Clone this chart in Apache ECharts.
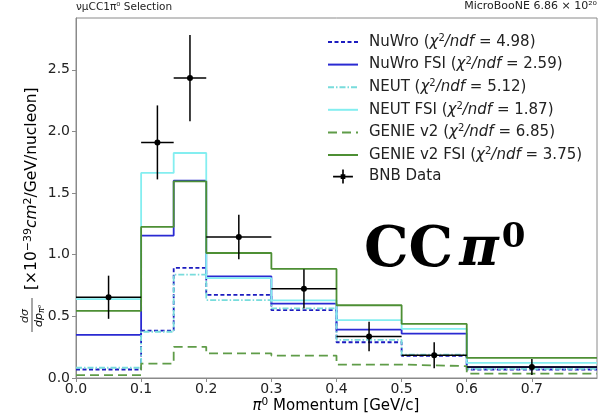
<!DOCTYPE html>
<html>
<head>
<meta charset="utf-8">
<script src="https://cdn.jsdelivr.net/npm/echarts@6/dist/echarts.min.js"></script>
<style>html,body{margin:0;padding:0;background:#fff}#c{width:603px;height:420px}</style>
</head>
<body>
<div id="c"></div>
<script>
// ---- data ----
const binEdges = [0, 0.1, 0.15, 0.2, 0.3, 0.4, 0.5, 0.6, 0.8];
const nuwro      = [0.069, 0.385, 0.893, 0.674, 0.550, 0.290, 0.180, 0.069];
const nuwroFSI   = [0.350, 1.155, 1.600, 0.825, 0.604, 0.393, 0.360, 0.088];
const neut       = [0.083, 0.375, 0.839, 0.631, 0.565, 0.310, 0.190, 0.074];
const neutFSI    = [0.640, 1.663, 1.825, 0.810, 0.630, 0.469, 0.398, 0.123];
const genie      = [0.023, 0.117, 0.253, 0.199, 0.182, 0.109, 0.096, 0.035];
const genieFSI   = [0.545, 1.225, 1.595, 1.014, 0.885, 0.590, 0.439, 0.163];
const dataX      = [0.05, 0.125, 0.175, 0.25, 0.35, 0.45, 0.55, 0.7];
const dataXErr   = [0.05, 0.025, 0.025, 0.05, 0.05, 0.05, 0.05, 0.1];
const dataY      = [0.655, 1.911, 2.433, 1.144, 0.723, 0.336, 0.185, 0.090];
const dataYErr   = [0.175, 0.300, 0.350, 0.180, 0.160, 0.120, 0.105, 0.065];
const modelNames = ['NuWro', 'NuWro FSI', 'NEUT', 'NEUT FSI', 'GENIE v2', 'GENIE v2 FSI'];
const chi2ndf    = ['4.98', '2.59', '5.12', '1.87', '6.85', '3.75'];
const xTicks     = [0, 0.1, 0.2, 0.3, 0.4, 0.5, 0.6, 0.7];
const yTicks     = [0, 0.5, 1.0, 1.5, 2.0, 2.5];

const FONT = 'DejaVu Sans';
const axisGray = '#8a8a8a';
const TXT = '#222';

function stepData(vals) {
  const d = vals.map((v, i) => [binEdges[i], v]);
  d.push([binEdges[binEdges.length - 1], vals[vals.length - 1]]);
  return d;
}

const styles = [
  {color: '#1c1cc0', type: [4, 2.5], width: 1.8},
  {color: '#2a2ad2', type: 'solid', width: 1.8},
  {color: '#78dcdc', type: [6, 2, 1.5, 2], width: 1.8},
  {color: '#84eef0', type: 'solid', width: 1.8},
  {color: '#5f9c48', type: [9, 5], width: 1.8},
  {color: '#4d8f34', type: 'solid', width: 1.8}
];
const modelVals = [nuwro, nuwroFSI, neut, neutFSI, genie, genieFSI];

const series = modelNames.map((n, i) => ({
  name: n,
  type: 'line',
  step: 'end',
  symbol: 'circle',
  showSymbol: false,
  data: stepData(modelVals[i]),
  lineStyle: {color: styles[i].color, type: styles[i].type, width: styles[i].width},
  itemStyle: {color: styles[i].color, opacity: 0},
  z: 2 + i,
  silent: true,
  animation: false
}));

const errRows = dataX.map((x, i) => [x, dataY[i], dataXErr[i], dataYErr[i]]);
series.push({
  name: 'BNB Data',
  type: 'custom',
  data: errRows,
  encode: {x: 0, y: 1},
  itemStyle: {color: '#000'},
  z: 20,
  animation: false,
  renderItem: function (params, api) {
    const x = api.value(0), y = api.value(1), xe = api.value(2), ye = api.value(3);
    const a = api.coord([x - xe, y]), b = api.coord([x + xe, y]);
    const t = api.coord([x, y + ye]), u = api.coord([x, y - ye]);
    const c = api.coord([x, y]);
    const st = {stroke: '#000', lineWidth: 1.5};
    return {
      type: 'group',
      children: [
        {type: 'line', shape: {x1: a[0], y1: a[1], x2: b[0], y2: b[1]}, style: st},
        {type: 'line', shape: {x1: t[0], y1: t[1], x2: u[0], y2: u[1]}, style: st},
        {type: 'circle', shape: {cx: c[0], cy: c[1], r: 3}, style: {fill: '#000'}}
      ]
    };
  }
});

const legendData = modelNames.map(n => ({name: n}));
legendData.push({
  name: 'BNB Data',
  icon: 'path://M0,5.3h17v1.4h-17z M7.8,0h1.4v12h-1.4z M6.5,4h4v4h-4z'
});

const chart = echarts.init(document.getElementById('c'), null, {renderer: 'canvas'});
chart.setOption({
  backgroundColor: '#fff',
  animation: false,
  grid: {left: 76, right: 6, top: 18, bottom: 42, show: true, borderColor: axisGray, borderWidth: 1, backgroundColor: 'transparent'},
  xAxis: {
    type: 'value', min: 0, max: 0.8, interval: 0.1,
    axisLine: {show: true, lineStyle: {color: axisGray, width: 1}},
    axisTick: {show: true, length: 4, lineStyle: {color: axisGray}},
    splitLine: {show: false},
    axisLabel: {
      margin: 4, fontFamily: FONT, fontSize: 14, color: TXT, showMaxLabel: false,
      formatter: v => xTicks.some(t => Math.abs(t - v) < 1e-9) ? v.toFixed(1) : ''
    }
  },
  yAxis: {
    type: 'value', min: 0, max: 2.92, interval: 0.5,
    axisLine: {show: true, lineStyle: {color: axisGray, width: 1}},
    axisTick: {show: true, length: 4, lineStyle: {color: axisGray}},
    splitLine: {show: false},
    axisLabel: {
      margin: 6, fontFamily: FONT, fontSize: 14, color: TXT, showMaxLabel: false,
      formatter: v => yTicks.some(t => Math.abs(t - v) < 1e-9) ? v.toFixed(1) : ''
    }
  },
  legend: {
    orient: 'vertical', left: 327, top: 33.5, padding: 0,
    itemWidth: 30, itemHeight: 14, itemGap: 6.6,
    data: legendData,
    selectedMode: false,
    textStyle: {
      fontFamily: FONT, fontSize: 15, color: TXT, padding: [0, 0, 0, 6],
      rich: {
        t: {fontFamily: FONT, fontSize: 15, color: TXT},
        i: {fontFamily: FONT, fontSize: 15, fontStyle: 'italic', color: TXT},
        sup: {fontFamily: FONT, fontSize: 10, color: TXT, padding: [0, 0, 7, 0]}
      }
    },
    formatter: function (name) {
      const k = modelNames.indexOf(name);
      if (k < 0) return '{t|' + name + '}';
      return '{t|' + name + ' (}{i|χ}{sup|2}{i|/ndf}{t| = ' + chi2ndf[k] + ')}';
    }
  },
  graphic: [
    {type: 'text', left: 76, top: 2, style: {text: 'νμCC1π⁰ Selection', font: '10.5px "DejaVu Sans"', fill: TXT}},
    {type: 'text', right: 6, top: 1, style: {text: 'MicroBooNE 6.86 × 10²⁰', font: '11px "DejaVu Sans"', fill: TXT}},
    {type: 'text', x: 336, y: 406, style: {
      text: '{i|π}{sup|0}{t| Momentum [GeV/c]}', align: 'center', verticalAlign: 'middle',
      rich: {
        t: {fontFamily: FONT, fontSize: 15, color: TXT},
        i: {fontFamily: FONT, fontSize: 15, fontStyle: 'italic', color: TXT},
        sup: {fontFamily: FONT, fontSize: 10.5, color: TXT, padding: [0, 0, 8, 0]}
      }
    }},
    {type: 'group', x: 32, y: 338, rotation: Math.PI / 2, children: [
      {type: 'text', x: 22, y: -7, style: {text: 'dσ', font: 'italic 11px "DejaVu Sans"', fill: TXT, align: 'center', verticalAlign: 'middle'}},
      {type: 'line', shape: {x1: 6, y1: 0, x2: 40, y2: 0}, style: {stroke: TXT, lineWidth: 0.8}},
      {type: 'text', x: 22, y: 7, style: {
        text: '{i|dp}{sub|π⁰}', align: 'center', verticalAlign: 'middle',
        rich: {
          i: {fontFamily: FONT, fontSize: 11, fontStyle: 'italic', color: TXT},
          sub: {fontFamily: FONT, fontSize: 8, fontStyle: 'italic', color: TXT, padding: [5, 0, 0, 0]}
        }
      }},
      {type: 'text', x: 48, y: 0, style: {
        text: '{t|[×10}{sup|−39}{i|cm}{sup|2}{t|/GeV/nucleon]}', align: 'left', verticalAlign: 'middle',
        rich: {
          t: {fontFamily: FONT, fontSize: 15.5, color: TXT},
          i: {fontFamily: FONT, fontSize: 15.5, fontStyle: 'italic', color: TXT},
          sup: {fontFamily: FONT, fontSize: 11, color: TXT, padding: [0, 0, 8, 0]}
        }
      }}
    ]},
    {type: 'text', x: 364, y: 251, style: {
      text: '{c|CC}{p|π}{s|0}', align: 'left', verticalAlign: 'middle',
      rich: {
        c: {fontFamily: 'DejaVu Serif', fontWeight: 'bold', fontSize: 56, color: '#000'},
        p: {fontFamily: 'DejaVu Serif', fontWeight: 'bold', fontStyle: 'italic', fontSize: 54, color: '#000', padding: [0, 3, 0, 6]},
        s: {fontFamily: 'DejaVu Serif', fontWeight: 'bold', fontSize: 34, color: '#000', padding: [0, 0, 26, 0]}
      }
    }}
  ],
  series: series
});
</script>
</body>
</html>
